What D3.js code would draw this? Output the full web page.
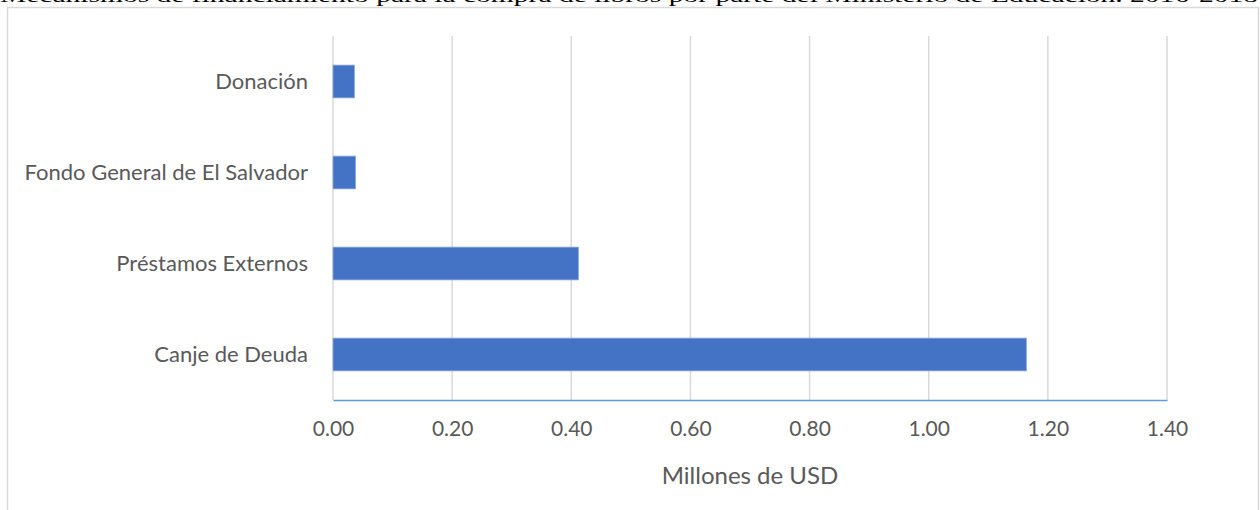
<!DOCTYPE html>
<html>
<head>
<meta charset="utf-8">
<script src="https://cdn.jsdelivr.net/npm/d3@7"></script>
<style>
  body { margin: 0; background: #fff; }
  svg { display: block; }
</style>
</head>
<body>
<div id="chart"></div>
<script>
const width = 1260;
const height = 510;

// data, top to bottom as drawn
const categories = ["Donación", "Fondo General de El Salvador", "Préstamos Externos", "Canje de Deuda"];
const values = [0.036, 0.038, 0.412, 1.164];
const tickValues = [0, 0.2, 0.4, 0.6, 0.8, 1.0, 1.2, 1.4];

const title = "Mecanismos de financiamiento para la compra de libros por parte del Ministerio de Educación. 2016-2018";
const xTitle = "Millones de USD";

const plot = {left: 333, right: 1167, top: 36, bottom: 400};
const font = "Lato, 'Open Sans', sans-serif";

const svg = d3.select("#chart")
  .append("svg")
    .attr("width", width)
    .attr("height", height);

// chart frame
svg.append("rect")
  .attr("x", 7.5)
  .attr("y", 7.5)
  .attr("width", 1251)
  .attr("height", 520)
  .attr("fill", "#fff")
  .attr("stroke", "#d9d9d9")
  .attr("stroke-width", 1.5);

// title, clipped by the top of the page as in the source
svg.append("text")
  .attr("x", 0)
  .attr("y", 2)
  .attr("font-family", "'Liberation Serif', 'Times New Roman', serif")
  .attr("font-size", 19)
  .attr("fill", "#000")
  .attr("textLength", 1258)
  .attr("lengthAdjust", "spacingAndGlyphs")
  .text(title);

const x = d3.scaleLinear()
  .domain([0, 1.4])
  .range([plot.left, plot.right]);

const y = d3.scaleBand()
  .domain(categories)
  .range([plot.top, plot.bottom])
  .paddingInner(0.64)
  .paddingOuter(0.32);

// gridlines
svg.append("g")
  .selectAll("line")
  .data(tickValues)
  .enter()
  .append("line")
    .attr("x1", d => x(d))
    .attr("x2", d => x(d))
    .attr("y1", plot.top)
    .attr("y2", plot.bottom)
    .attr("stroke", "#d9d9d9")
    .attr("stroke-width", 1.5);

// bars
svg.append("g")
  .selectAll("rect")
  .data(values)
  .enter()
  .append("rect")
    .attr("x", x(0))
    .attr("y", (d, i) => y(categories[i]))
    .attr("width", d => x(d) - x(0))
    .attr("height", y.bandwidth())
    .attr("fill", "#4472c4")
    .attr("stroke", "#8eaadb")
    .attr("stroke-width", 0.8);

// x axis
const xAxis = svg.append("g")
  .attr("transform", "translate(0," + plot.bottom + ")")
  .call(d3.axisBottom(x)
    .tickValues(tickValues)
    .tickFormat(d3.format(".2f"))
    .tickSize(0)
    .tickPadding(21));

xAxis.select(".domain")
  .attr("stroke", "#5b9bd5")
  .attr("stroke-width", 1.5);

xAxis.selectAll("text")
  .attr("font-family", font)
  .attr("font-size", 21)
  .attr("fill", "#595959");

// y axis labels
const yAxis = svg.append("g")
  .attr("transform", "translate(" + plot.left + ",0)")
  .call(d3.axisLeft(y).tickSize(0).tickPadding(25));

yAxis.select(".domain").remove();

yAxis.selectAll("text")
  .attr("font-family", font)
  .attr("font-size", 22)
  .attr("fill", "#595959");

// axis title
svg.append("text")
  .attr("x", (plot.left + plot.right) / 2)
  .attr("y", 484)
  .attr("text-anchor", "middle")
  .attr("font-family", font)
  .attr("font-size", 24)
  .attr("fill", "#595959")
  .text(xTitle);
</script>
</body>
</html>
